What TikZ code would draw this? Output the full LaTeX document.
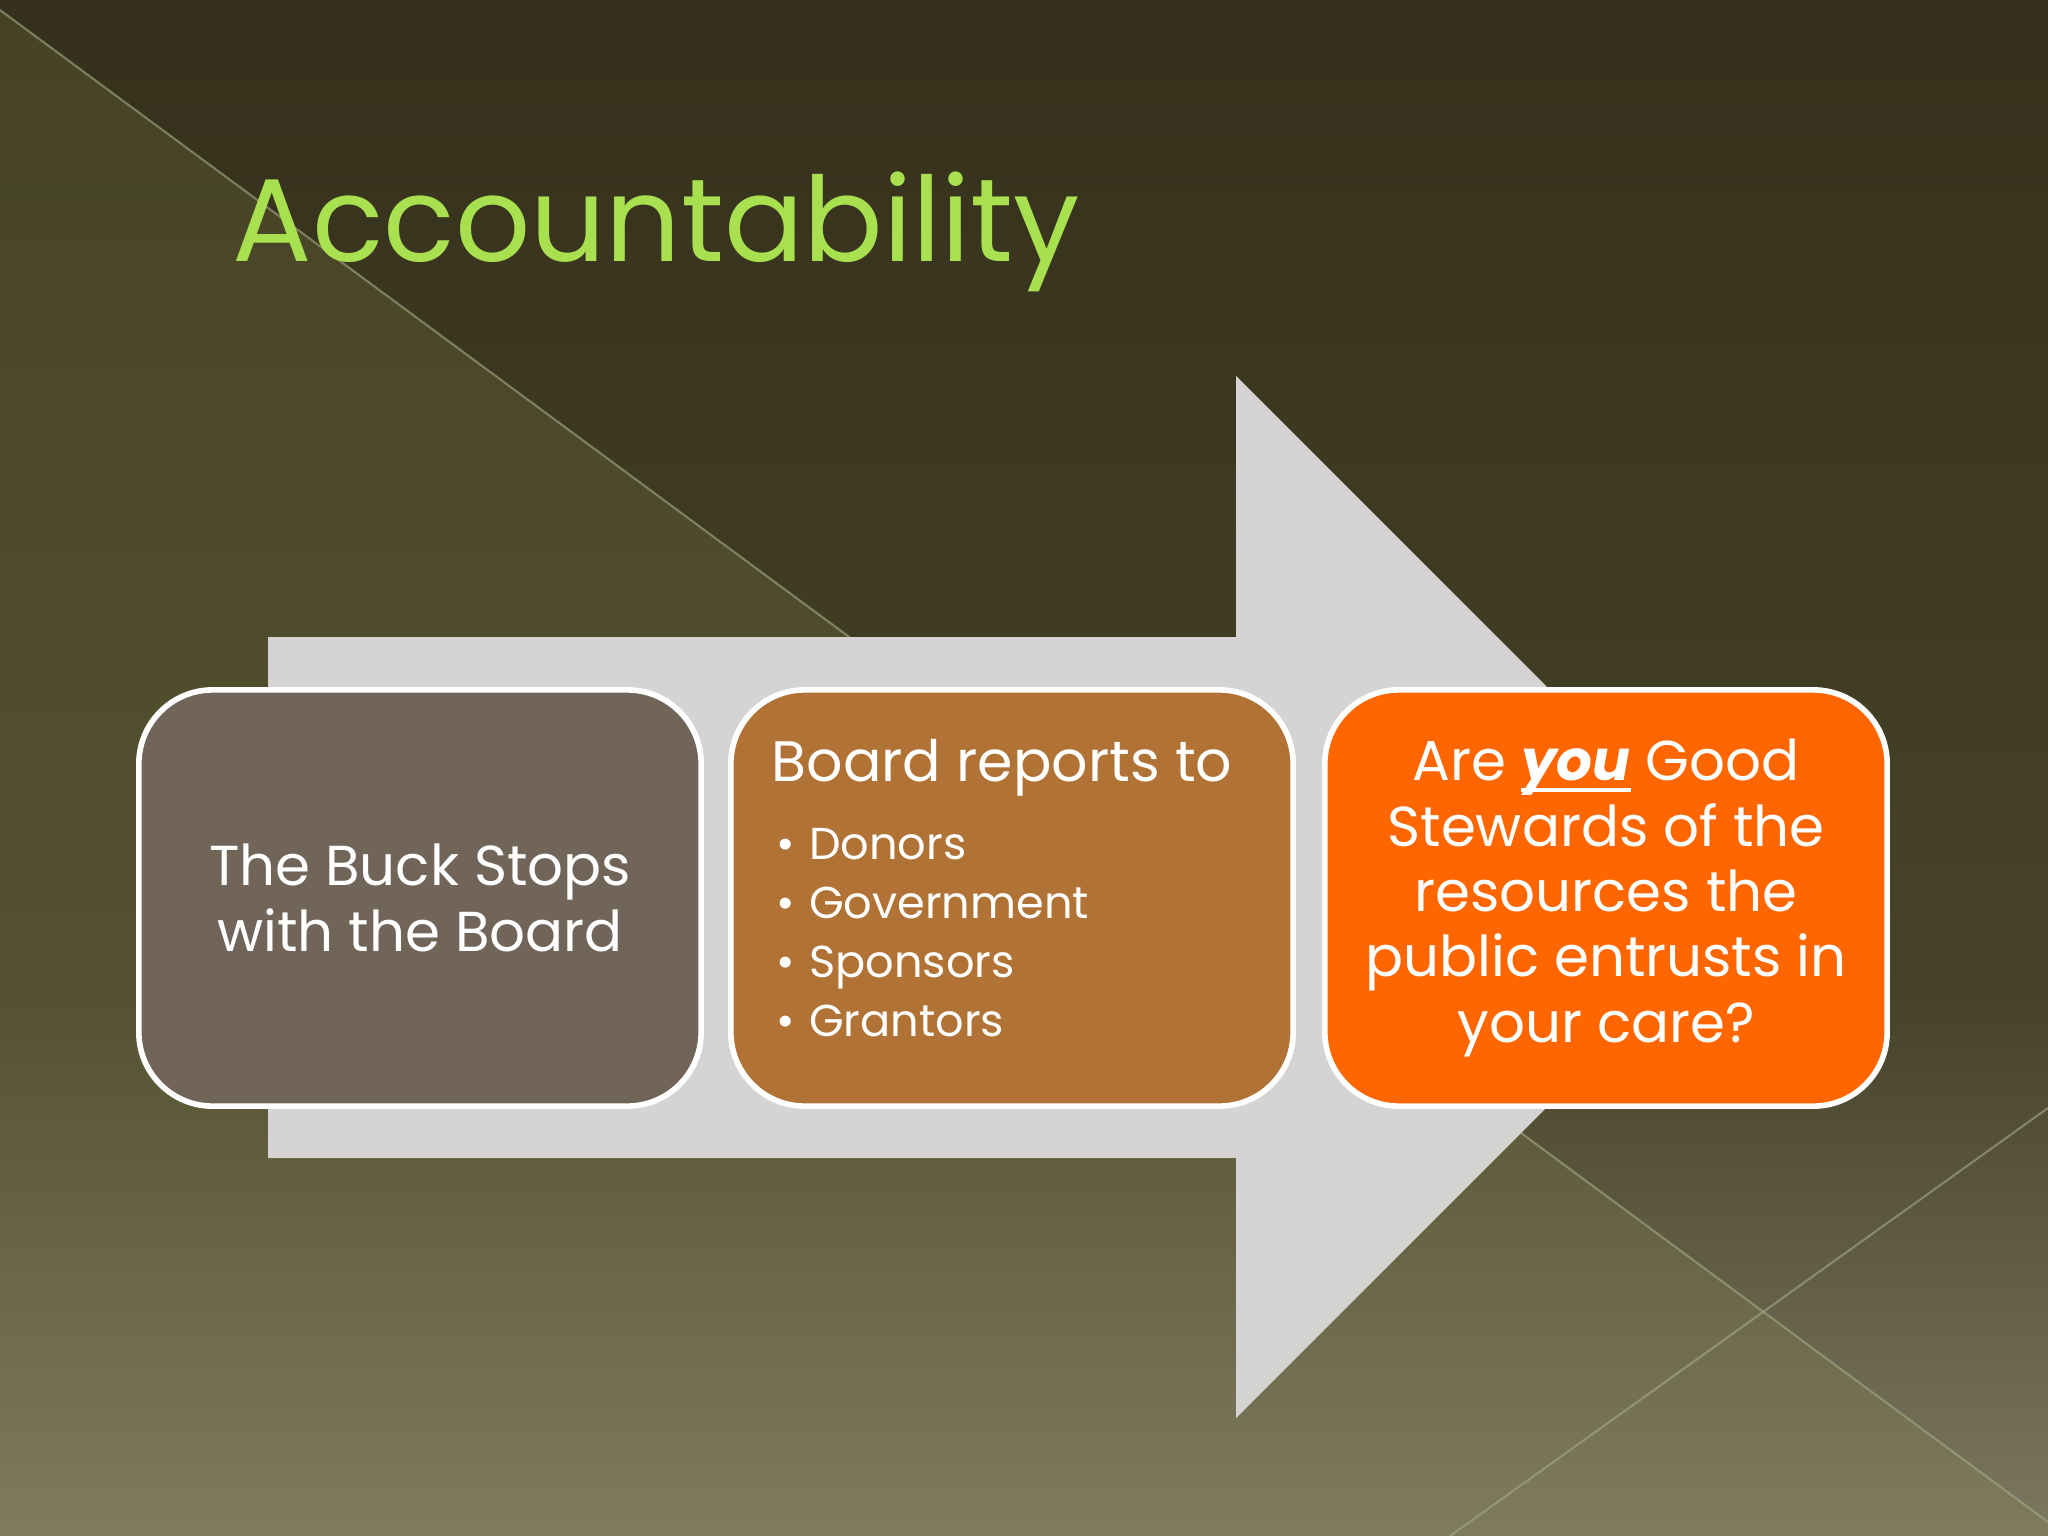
\documentclass[tikz,border=0pt]{standalone}
\usepackage{fontspec}
\setmainfont{Poppins}
\definecolor{bgtop}{HTML}{35301B}
\definecolor{bgmid}{HTML}{474329}
\definecolor{bgbot}{HTML}{7C7761}
\definecolor{olivetint}{HTML}{8C9050}
\definecolor{slantline}{HTML}{A8A888}
\definecolor{arrowgray}{HTML}{D6D3D3}
\definecolor{buckgray}{HTML}{706558}
\definecolor{reportbrown}{HTML}{B07335}
\definecolor{stewardorange}{HTML}{FF6600}
\definecolor{titlegreen}{HTML}{A8E04F}
\newcommand{\thickunder}[1]{\setbox0\hbox{#1}\rlap{\rule[-3.2pt]{\wd0}{1.2pt}}#1}
\begin{document}
\begin{tikzpicture}[x=0.01cm, y=-0.01cm,
  stagebox/.style={draw=white, line width=1.6pt, rounded corners=21pt, minimum width=5.62cm, minimum height=4.16cm, text=white, align=center, font=\fontsize{16}{18.6}\selectfont},
  listhead/.style={anchor=base west, inner sep=0pt, text=white, font=\fontsize{16.2}{16.2}\selectfont},
  listitem/.style={anchor=base west, inner sep=0pt, text=white, font=\fontsize{12.7}{12.7}\selectfont}]
\useasboundingbox (0,0) rectangle (2048,1536);

\shade[top color=bgtop, bottom color=bgmid] (0,0) rectangle (2048,1000);
\shade[top color=bgmid, bottom color=bgbot] (0,1000) rectangle (2048,1536);
\fill[olivetint, opacity=0.2] (0,10) -- (2048,1522) -- (2048,1536) -- (0,1536) -- cycle;
\draw[slantline, opacity=0.6, line width=0.6pt] (0,10) -- (2048,1522);
\draw[slantline, opacity=0.6, line width=0.6pt] (1450,1536) -- (2048,1108);

\node[anchor=base west, inner sep=0pt, text=titlegreen, font=\fontsize{33.5}{33.5}\selectfont] (title) at (232,261) {Accountability};

\fill[arrowgray] (268,637) -- (1236,637) -- (1236,376) -- (1757,897) -- (1236,1418) -- (1236,1158) -- (268,1158) -- cycle;

\node[stagebox, fill=buckgray] (buck) at (420,898) {The Buck Stops\\with the Board};
\node[stagebox, fill=reportbrown] (reports) at (1012,898) {};
\node[stagebox, fill=stewardorange] (stewards) at (1606,898) {Are \thickunder{\textbf{\textit{you}}} Good\\Stewards of the\\resources the\\public entrusts in\\your care?};

\node[listhead] (reporthead) at (771,781) {Board reports to};
\node[listitem] (donors) at (776,859) {\textbullet\hspace{4pt}Donors};
\node[listitem] (government) at (776,918) {\textbullet\hspace{4pt}Government};
\node[listitem] (sponsors) at (776,977) {\textbullet\hspace{4pt}Sponsors};
\node[listitem] (grantors) at (776,1036) {\textbullet\hspace{4pt}Grantors};
\end{tikzpicture}
\end{document}
